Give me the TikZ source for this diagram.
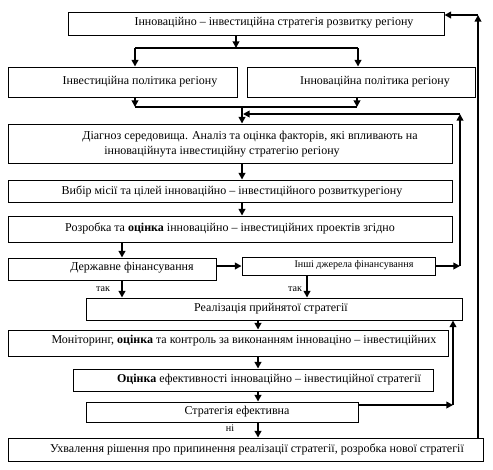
\documentclass[tikz,border=0pt]{standalone}
\usepackage{fontspec}
\setmainfont{Liberation Serif}
\usetikzlibrary{arrows.meta,fit}
\begin{document}
\begin{tikzpicture}[x=0.75pt,y=-0.75pt,
  box/.style={draw=black,line width=0.7pt,inner sep=0pt,rectangle},
  txt/.style={inner sep=0pt,font=\fontsize{9}{10.5}\selectfont},
  stxt/.style={inner sep=0pt,font=\fontsize{7.6}{9}\selectfont},
  lbl/.style={inner sep=0pt,font=\fontsize{7.6}{9}\selectfont},
  con/.style={line width=1.5pt},
  arr/.style={line width=1.5pt,-{Triangle[length=5pt,width=5pt]}}]
\useasboundingbox (0,0) rectangle (493,469);
% boxes
\node[box,fit={(68,12)(444,35)}] (b1) {};
\node[box,fit={(8,67)(237,97)}] (b2) {};
\node[box,fit={(247,67)(475,97)}] (b3) {};
\node[box,fit={(8,124)(452,163)}] (b4) {};
\node[box,fit={(8,180)(452,202)}] (b5) {};
\node[box,fit={(8,216)(452,242)}] (b6) {};
\node[box,fit={(8,258)(216,280)}] (b7) {};
\node[box,fit={(242,257)(435,275)}] (b8) {};
\node[box,fit={(86,298)(462,320)}] (b9) {};
\node[box,fit={(8,330)(448,356)}] (b10) {};
\node[box,fit={(73,369)(433,391)}] (b11) {};
\node[box,fit={(86,402)(358,422)}] (b12) {};
\node[box,fit={(8,438)(483,461)}] (b13) {};
% texts
\node[txt] (t1) at (274,23) {Інноваційно – інвестиційна стратегія розвитку регіону};
\node[txt] (t2) at (140,82) {Інвестиційна політика регіону};
\node[txt] (t3) at (375,82) {Інноваційна політика регіону};
\node[txt] (t4a) at (250,137) {Діагноз середовища. Аналіз та оцінка факторів, які впливають на};
\node[txt] (t4b) at (222,152) {інноваційнута інвестиційну стратегію регіону};
\node[txt] (t5) at (232,191) {Вибір місії та цілей інноваційно – інвестиційного розвиткурегіону};
\node[txt] (t6) at (230,228) {Розробка та \textbf{оцінка} інноваційно – інвестиційних проектів згідно};
\node[txt] (t7) at (132,268) {Державне фінансування};
\node[stxt] (t8) at (354,265) {Інші джерела фінансування};
\node[txt] (t9) at (271,309) {Реалізація прийнятої стратегії};
\node[txt] (t10) at (244,341) {Моніторинг, \textbf{оцінка} та контроль за виконанням інноваціно – інвестиційних};
\node[txt] (t11) at (269,380) {\textbf{Оцінка} ефективності інноваційно – інвестиційної стратегії};
\node[txt] (t12) at (237,412) {Стратегія ефективна};
\node[txt] (t13) at (257,449) {Ухвалення рішення про припинення реалізації стратегії, розробка нової стратегії};
\node[lbl] (l1) at (103,289) {так};
\node[lbl] (l2) at (295,289) {так};
\node[lbl] (l3) at (230,428) {ні};
% junction coordinates
\coordinate (j1) at (236,48);
\coordinate (j1l) at (135,48);
\coordinate (j1r) at (358,48);
\coordinate (j2l) at (135,107);
\coordinate (j2r) at (357,107);
\coordinate (j2m) at (242,107);
\coordinate (fb1) at (460,266);
\coordinate (fb2) at (460,114);
\coordinate (fb3) at (243,114);
\coordinate (xa) at (122,0);
\coordinate (xb) at (307,0);
\coordinate (xc) at (258,0);
\coordinate (fc1) at (453,405);
\coordinate (fd1) at (478,438);
\coordinate (fd2) at (478,15);
% connectors
\draw[arr] (b1.south -| j1) -- (j1);
\draw[con] (j1l) -- (j1r);
\draw[arr] (j1l) -- (b2.north -| j1l);
\draw[arr] (j1r) -- (b3.north -| j1r);
\draw[arr] (b2.south -| j2l) -- (j2l);
\draw[arr] (b3.south -| j2r) -- (j2r);
\draw[con] (j2l) -- (j2r);
\draw[arr] (j2m) -- (b4.north -| j2m);
\draw[arr] (b4.south -| j2m) -- (b5.north -| j2m);
\draw[arr] (b5.south -| j2m) -- (b6.north -| j2m);
\draw[arr] (b6.south -| xa) -- (b7.north -| xa);
\draw[arr] (b7.east |- fb1) -- (b8.west |- fb1);
\draw[arr] (b8.east |- fb1) -- (fb1);
\draw[arr] (fb1) -- (fb2);
\draw[arr] (fb2) -- (fb3);
\draw[arr] (b7.south -| xa) -- (b9.north -| xa);
\draw[arr] (b8.south -| xb) -- (b9.north -| xb);
\draw[arr] (b9.south -| xc) -- (b10.north -| xc);
\draw[arr] (b10.south -| xc) -- (b11.north -| xc);
\draw[arr] (b11.south -| xc) -- (b12.north -| xc);
\draw[arr] (b12.south -| xc) -- (b13.north -| xc);
\draw[arr] (b12.east |- fc1) -- (fc1);
\draw[arr] (fc1) -- (b9.south -| fc1);
\draw[arr] (fd1) -- (fd2);
\draw[arr] (fd2) -- (b1.east |- fd2);
\end{tikzpicture}
\end{document}
